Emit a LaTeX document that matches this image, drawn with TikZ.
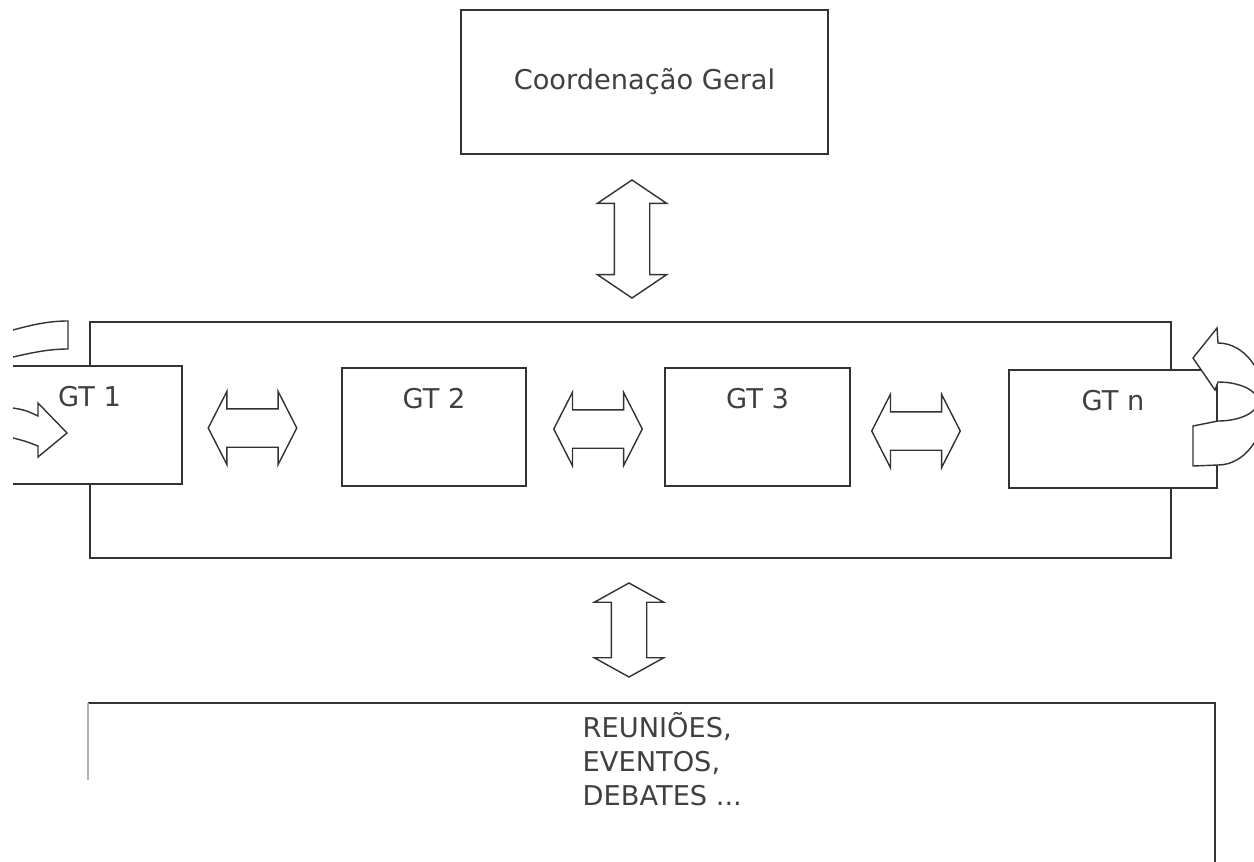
\documentclass[tikz,border=0pt]{standalone}
\usepackage{fontspec}
\setmainfont{DejaVu Sans}
\usepackage{tikz}
\usetikzlibrary{shapes.arrows, positioning}

\newcommand{\gtfont}{\fontsize{15.5}{19.3}\selectfont}

\begin{document}
\begin{tikzpicture}[x=0.2mm, y=-0.2mm,
        line width=0.8pt, color=black!80,
        box/.style={rectangle, draw, fill=white, inner sep=0pt, font=\gtfont, text=black!75},
        gtbox/.style={box, minimum height=23.6mm},
        gttext/.style={inner sep=0pt, font=\gtfont, text=black!75},
        harrow/.style={double arrow, draw, fill=white, inner xsep=0pt, inner ysep=3.7mm,
            minimum height=17.7mm, double arrow head extend=3.5mm, double arrow tip angle=126},
        varrow/.style={harrow, rotate=90, inner ysep=3.4mm, double arrow head extend=3.4mm}
    ]
    \useasboundingbox (0,0) rectangle (1254,861);
    \clip (13,0) rectangle (1254,861);

    % coordination
    \node[box, minimum width=73.4mm, minimum height=28.8mm] (coord) at (644.5,82) {Coordenação Geral};
    \node[varrow, minimum height=23.6mm, double arrow tip angle=112] (acoord) at (632,239) {};

    % working groups
    \node[box, minimum width=216.2mm, minimum height=47.2mm] (grupo) at (630.5,440) {};
    \node[gtbox, minimum width=37mm] (gt1) at (89.5,425) {};
    \node[gtbox, minimum width=36.8mm] (gt2) at (434,427) {};
    \node[gtbox, minimum width=37mm] (gt3) at (757.5,427) {};
    \node[gtbox, minimum width=41.6mm] (gtn) at (1113,429) {};
    \node[gttext, below=4mm of gt1.north] (t1) {GT 1};
    \node[gttext, below=4mm of gt2.north] (t2) {GT 2};
    \node[gttext, below=4mm of gt3.north] (t3) {GT 3};
    \node[gttext, below=4mm of gtn.north] (tn) {GT n};

    \node[harrow] (a12) at (252.5,428) {};
    \node[harrow] (a23) at (598,429) {};
    \node[harrow] (a3n) at (916,431) {};

    % loop arrows
    \draw (13,330) .. controls (35,324) and (50,321) .. (68,321) -- (68,349)
        .. controls (50,349) and (35,352) .. (13,357);
    \draw (13,408) .. controls (25,410) .. (38,416) -- (38,403) -- (67,433) -- (38,457) -- (38,446)
        .. controls (25,441) .. (13,438);
    \draw[fill=white] (1218,343) arc[start angle=-90, end angle=90, x radius=47, y radius=61]
        -- (1193,466) -- (1193,426) -- (1218,421)
        arc[start angle=90, end angle=-90, x radius=40, y radius=19.5]
        -- (1215,390) -- (1193,358) -- (1217,328) -- cycle;

    % events
    \node[varrow, minimum height=18.8mm, double arrow tip angle=122] (aevent) at (629,630) {};
    \draw (88,703) -- (1215,703) -- (1215,880);
    \draw[black!30] (88,703) -- (88,780);
    \node[gttext, align=left, anchor=north west] (events) at (582,712) {REUNIÕES,\\EVENTOS,\\DEBATES ...};
\end{tikzpicture}
\end{document}
